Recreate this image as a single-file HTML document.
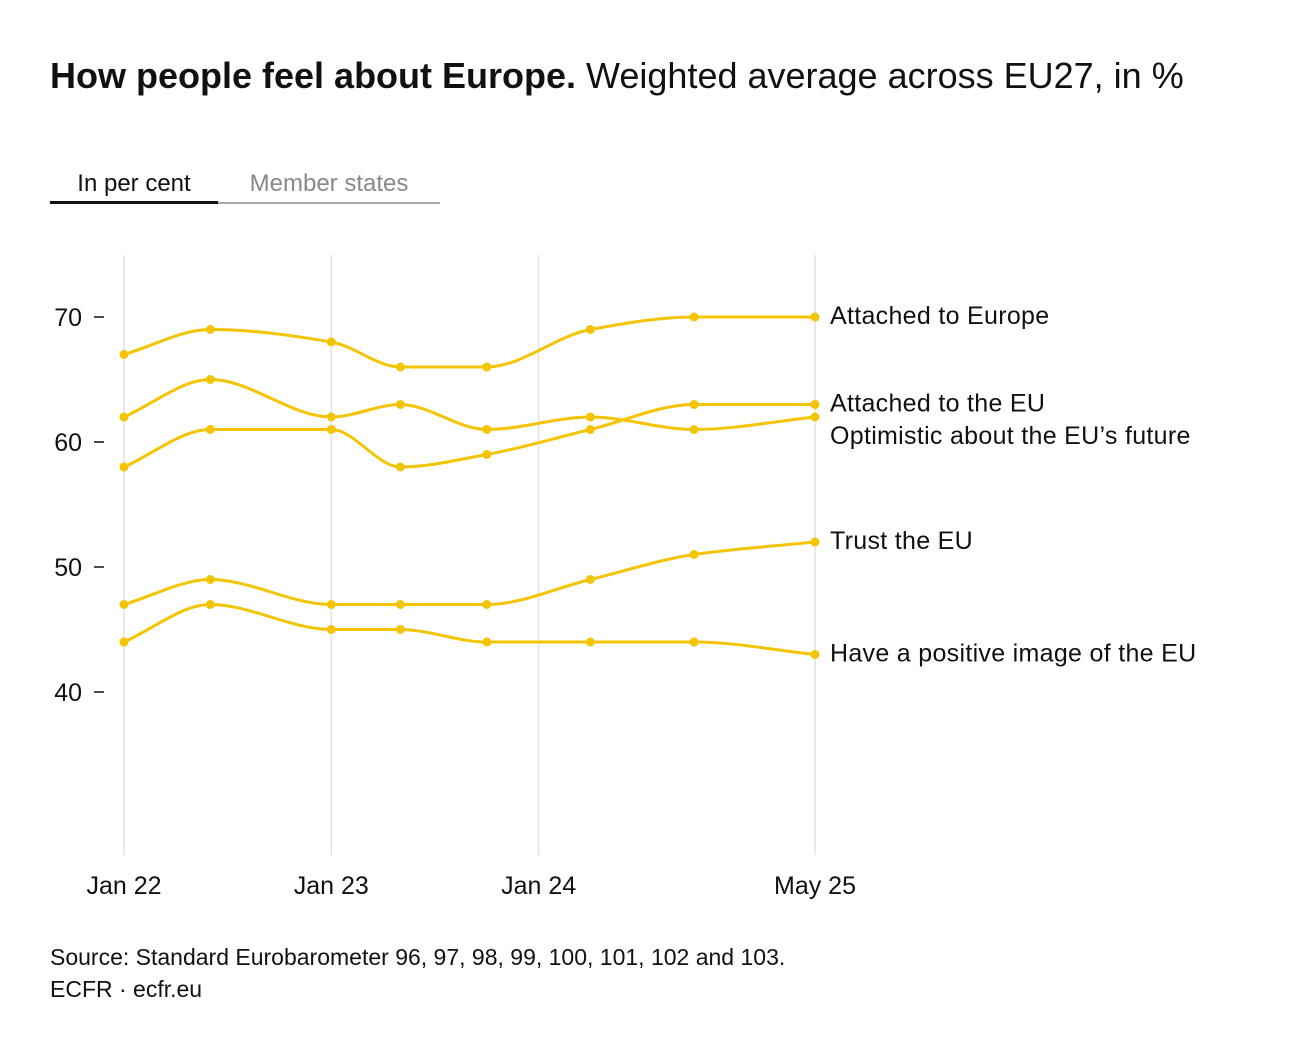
<!DOCTYPE html>
<html><head><meta charset="utf-8"><style>
body{margin:0;background:#fff;font-family:"Liberation Sans",sans-serif;}
#wrap{position:relative;width:1300px;height:1056px;overflow:hidden;}
.t{position:absolute;white-space:nowrap;}
</style></head><body>
<div id="wrap">
<div class="t" style="left:50px;top:55px;font-size:36px;color:#111;letter-spacing:0px"><b>How people feel about Europe.</b> Weighted average across EU27, in %</div>
<div class="t" style="left:50px;top:170px;width:168px;text-align:center;font-size:24px;color:#111;border-bottom:3px solid #111;padding-bottom:3px">In per cent</div>
<div class="t" style="left:218px;top:170px;width:222px;text-align:center;font-size:24px;color:#888;border-bottom:2px solid #aaa;padding-bottom:4px">Member states</div>
<svg id="chart" width="1300" height="1056" style="position:absolute;left:0;top:0"></svg>
<div class="t" style="left:50px;top:944px;font-size:23px;color:#111">Source: Standard Eurobarometer 96, 97, 98, 99, 100, 101, 102 and 103.</div>
<div class="t" style="left:50px;top:976px;font-size:23px;color:#111">ECFR · ecfr.eu</div>
</div>
<script>
const months=[0,5,12,16,21,27,33,40];
const seriesNames=["Attached to Europe","Attached to the EU","Optimistic about the EU’s future","Trust the EU","Have a positive image of the EU"];
const attachedEurope=[67,69,68,66,66,69,70,70];
const attachedEU=[58,61,61,58,59,61,63,63];
const optimistic=[62,65,62,63,61,62,61,62];
const trustEU=[47,49,47,47,47,49,51,52];
const positiveImage=[44,47,45,45,44,44,44,43];
const yTicks=[40,50,60,70];
const xTickMonths=[0,12,24,40];
const xTickLabels=["Jan 22","Jan 23","Jan 24","May 25"];
const labelY=[70,63,60.4,52,43];

const X=m=>124+m*(815-124)/40;
const Y=v=>692-(v-40)*12.5;
const svg=document.getElementById('chart');
const NS="http://www.w3.org/2000/svg";
function mk(t,a){const e=document.createElementNS(NS,t);for(const k in a)e.setAttribute(k,a[k]);svg.appendChild(e);return e;}
xTickMonths.forEach((m,i)=>{
  const g=mk('line',{x1:X(m),x2:X(m),y1:255,y2:855,stroke:'#e2e2e2','stroke-width':1.5});
  
  
  const t=mk('text',{x:X(m),y:894,'text-anchor':'middle','font-size':25,fill:'#111','font-family':'Liberation Sans'});
  t.textContent=xTickLabels[i];
  
  
});
yTicks.forEach(v=>{
  const l=mk('line',{x1:94,x2:104,y1:Y(v),y2:Y(v),stroke:'#111','stroke-width':1.5});
  
  
  const t=mk('text',{x:82,y:Y(v)+9,'text-anchor':'end','font-size':25,fill:'#111','font-family':'Liberation Sans'});
  t.textContent=v;
  
  
});
function monotone(xs,ys){
  const n=xs.length,d=[],m=[];
  for(let i=0;i<n-1;i++)d.push((ys[i+1]-ys[i])/(xs[i+1]-xs[i]));
  m[0]=d[0];m[n-1]=d[n-2];
  for(let i=1;i<n-1;i++){
    if(d[i-1]*d[i]<=0)m[i]=0;
    else{const h0=xs[i]-xs[i-1],h1=xs[i+1]-xs[i];
      m[i]=3*(h0+h1)/((2*h1+h0)/d[i-1]+(h1+2*h0)/d[i]);}
  }
  let p=`M${xs[0]},${ys[0]}`;
  for(let i=0;i<n-1;i++){const h=(xs[i+1]-xs[i])/3;
    p+=`C${xs[i]+h},${ys[i]+m[i]*h} ${xs[i+1]-h},${ys[i+1]-m[i+1]*h} ${xs[i+1]},${ys[i+1]}`;}
  return p;
}
const all=[attachedEurope,attachedEU,optimistic,trustEU,positiveImage];
const col='#F5C400';
all.forEach((vals,si)=>{
  const xs=months.map(X),ys=vals.map(Y);
  const p=mk('path',{d:monotone(xs,ys),fill:'none',stroke:col,'stroke-width':3});
  
  
  xs.forEach((x,i)=>{
    const c=mk('circle',{cx:x,cy:ys[i],r:4.5,fill:col});
    
    
  });
  const t=mk('text',{x:830,y:Y(labelY[si])+7,'font-size':25,'letter-spacing':'0.3',fill:'#111','font-family':'Liberation Sans'});
  t.textContent=seriesNames[si];
  
  
});
</script>
</body></html>
